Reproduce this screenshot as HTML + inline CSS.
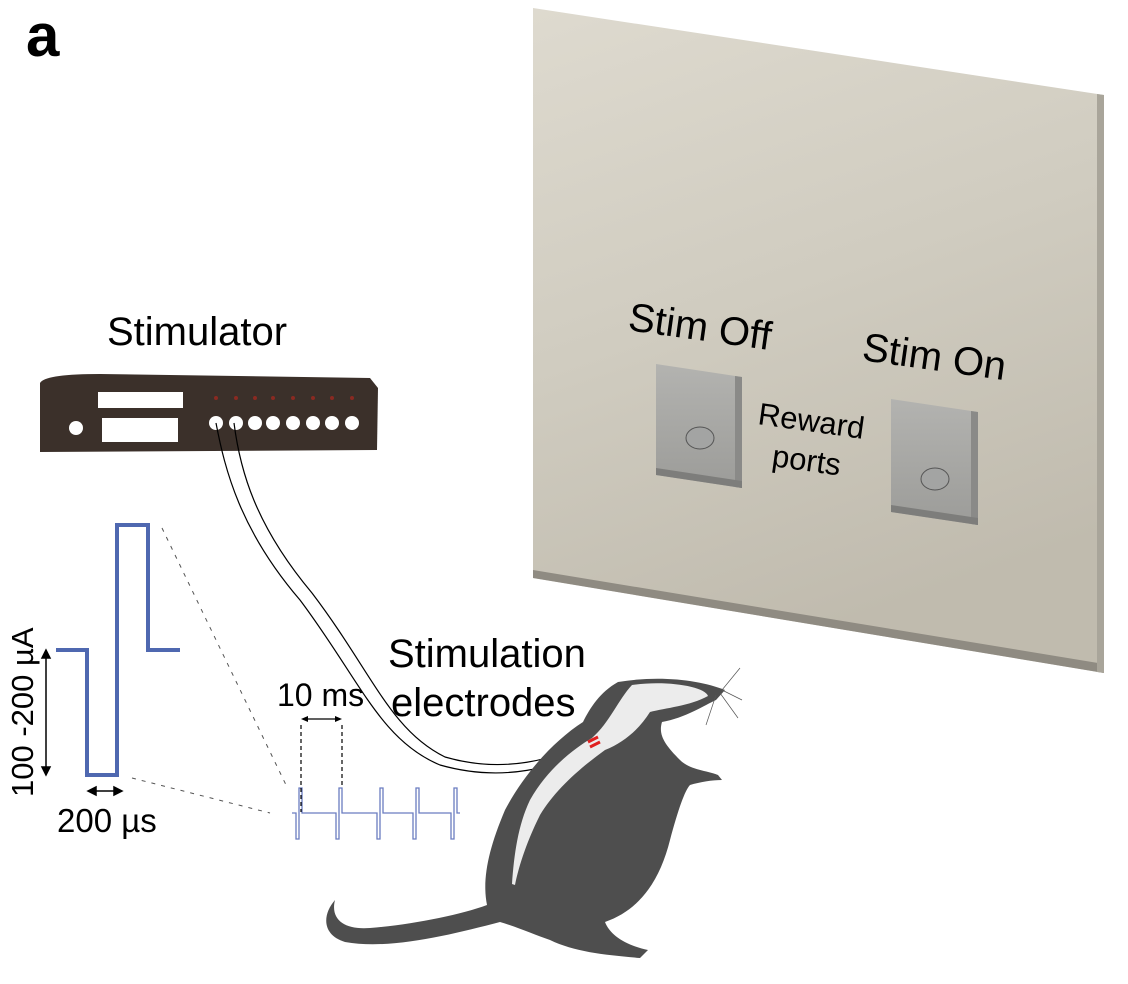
<!DOCTYPE html>
<html><head><meta charset="utf-8"><style>
body{margin:0;background:#fff;}
svg{display:block;font-family:"Liberation Sans",Arial,sans-serif;}
</style></head><body>
<svg width="1128" height="984" viewBox="0 0 1128 984" xmlns="http://www.w3.org/2000/svg">
<defs>
<linearGradient id="wall" x1="0" y1="0" x2="0.3" y2="1">
<stop offset="0" stop-color="#dedacf"/><stop offset="0.5" stop-color="#d0ccc0"/><stop offset="1" stop-color="#c0bbae"/>
</linearGradient>
<linearGradient id="btn" x1="0" y1="0" x2="0" y2="1">
<stop offset="0" stop-color="#b3b3b0"/><stop offset="1" stop-color="#9c9c99"/>
</linearGradient>
</defs>
<text x="26" y="56" font-size="60" font-weight="bold">a</text>

<polygon points="533,8 1104,95 1104,673 533,578" fill="url(#wall)"/>
<polygon points="533,570 1104,664 1104,673 533,578" fill="#8f8b82"/>
<polygon points="1097,94 1104,95 1104,673 1097,672" fill="#a9a59a"/>
<text x="627" y="330" font-size="40" transform="rotate(8 627 330)">Stim Off</text>
<text x="861" y="360" font-size="40" transform="rotate(8 861 360)">Stim On</text>
<text x="757" y="424" font-size="31" transform="rotate(8 757 424)">Reward</text>
<text x="771" y="466" font-size="31" transform="rotate(8 771 466)">ports</text>
<polygon points="656,364 742,377 742,488 656,475" fill="url(#btn)"/>
<polygon points="735,376 742,377 742,488 735,487" fill="#8a8a88"/>
<polygon points="656,468 742,481 742,488 656,475" fill="#7d7d7b"/>
<ellipse cx="700" cy="438" rx="14" ry="11" fill="#a3a4a3" stroke="#555" stroke-width="1"/>
<polygon points="891,399 978,412 978,525 891,512" fill="url(#btn)"/>
<polygon points="971,411 978,412 978,525 971,524" fill="#8a8a88"/>
<polygon points="891,505 978,518 978,525 891,512" fill="#7d7d7b"/>
<ellipse cx="935" cy="479" rx="14" ry="11" fill="#a3a4a3" stroke="#555" stroke-width="1"/>

<text x="107" y="345" font-size="40">Stimulator</text>
<path d="M40,383 Q45,374 100,374 L370,378 L378,388 L377,450 L40,452 Z" fill="#3b302a"/>
<rect x="98" y="392" width="85" height="16" fill="#fff"/>
<rect x="102" y="418" width="76" height="24" fill="#fff"/>
<circle cx="76" cy="428" r="7" fill="#fff"/>
<g fill="#fff">
<circle cx="216" cy="423" r="7"/><circle cx="236" cy="423" r="7"/><circle cx="255" cy="423" r="7"/><circle cx="273" cy="423" r="7"/><circle cx="293" cy="423" r="7"/><circle cx="313" cy="423" r="7"/><circle cx="332" cy="423" r="7"/><circle cx="352" cy="423" r="7"/>
</g>
<g fill="#8a2a22"><circle cx="216" cy="398" r="2"/><circle cx="236" cy="398" r="2"/><circle cx="255" cy="398" r="2"/><circle cx="273" cy="398" r="2"/><circle cx="293" cy="398" r="2"/><circle cx="313" cy="398" r="2"/><circle cx="332" cy="398" r="2"/><circle cx="352" cy="398" r="2"/></g>

<g fill="none" stroke="#000" stroke-width="1.2">
<path d="M216,423 C225,470 240,530 300,600 C360,680 380,740 440,765 C500,782 560,770 595,742"/>
<path d="M234,423 C240,470 255,525 312,593 C372,672 390,730 445,757 C500,773 560,762 590,736"/>
</g>

<polyline points="56,650 87,650 87,775 117,775 117,525 148,525 148,650 180,650" fill="none" stroke="#4f68b0" stroke-width="4"/>
<g stroke="#000" stroke-width="1.5" fill="#000">
<line x1="46" y1="655" x2="46" y2="770"/>
<polygon points="46,650 42,658 50,658"/><polygon points="46,775 42,767 50,767"/>
<line x1="93" y1="791" x2="117" y2="791"/>
<polygon points="88,791 96,787 96,795"/><polygon points="122,791 114,787 114,795"/>
</g>
<text x="0" y="0" font-size="31" transform="translate(33,797) rotate(-90)">100 -200 µA</text>
<text x="57" y="832" font-size="33">200 µs</text>
<line x1="162" y1="528" x2="287" y2="787" stroke="#555" stroke-width="1" stroke-dasharray="4,6"/>
<line x1="132" y1="778" x2="270" y2="813" stroke="#555" stroke-width="1" stroke-dasharray="4,6"/>

<polyline points="292,813 296,813 296,839 299,839 299,788 302,788 302,813 336,813 336,839 339,839 339,788 342,788 342,813 377,813 377,839 380,839 380,788 383,788 383,813 413,813 413,839 416,839 416,788 419,788 419,813 451,813 451,839 454,839 454,788 457,788 457,813 460,813" fill="none" stroke="#6a7cc0" stroke-width="1.3"/>
<g stroke="#000" stroke-width="1.2">
<line x1="301" y1="725" x2="301" y2="812" stroke-dasharray="4,3"/>
<line x1="342" y1="725" x2="342" y2="788" stroke-dasharray="4,3"/>
<line x1="305" y1="719" x2="338" y2="719"/>
</g>
<polygon points="301,719 308,716 308,722" fill="#000"/><polygon points="342,719 335,716 335,722" fill="#000"/>
<text x="277" y="706" font-size="32">10 ms</text>
<text x="388" y="667" font-size="40">Stimulation</text>
<text x="391" y="716" font-size="40">electrodes</text>

<path d="M618,682 C600,692 590,708 583,722 C555,740 525,772 505,810 C488,850 482,880 487,905 C460,915 410,925 370,928 C345,930 330,920 335,900 C322,915 322,935 345,942 C390,950 450,935 500,922 C520,928 535,935 550,940 C575,952 605,955 640,958 L648,950 C625,945 610,935 605,922 C640,910 660,880 670,840 C678,810 685,790 690,785 C700,782 712,780 722,780 L718,775 C705,770 690,770 680,760 C665,745 658,735 662,722 C685,718 705,705 716,700 L725,690 C700,680 660,675 618,682 Z" fill="#4e4e4e"/>
<path d="M632,685 C665,680 705,686 708,696 C690,706 665,708 650,712 C640,728 625,742 605,750 C580,768 555,790 540,815 C525,845 518,870 515,885 L512,884 C514,855 518,825 530,800 C548,768 575,748 592,738 C610,722 618,700 632,685 Z" fill="#ececec"/>
<line x1="588" y1="742" x2="598" y2="737" stroke="#e02020" stroke-width="3"/>
<line x1="590" y1="747" x2="600" y2="742" stroke="#e02020" stroke-width="3"/>
<g stroke="#555" stroke-width="0.7">
<line x1="722" y1="690" x2="740" y2="668"/><line x1="722" y1="690" x2="742" y2="700"/><line x1="720" y1="693" x2="738" y2="718"/><line x1="716" y1="695" x2="706" y2="725"/>
</g>
</svg>
</body></html>
